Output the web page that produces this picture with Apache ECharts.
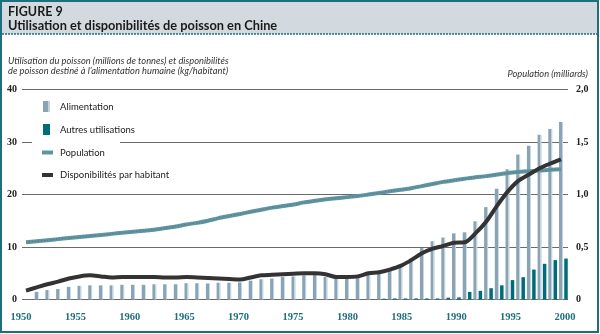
<!DOCTYPE html>
<html><head><meta charset="utf-8">
<script src="https://cdn.jsdelivr.net/npm/echarts@6/dist/echarts.min.js"></script>
<style>html,body{margin:0;padding:0;background:#fff}#c{width:600px;height:334px}</style>
</head><body><div id="c"></div>
<script>
// ---- data ----
const lineYears = [1950,1951,1952,1953,1954,1955,1956,1957,1958,1959,1960,1961,1962,1963,1964,1965,1966,1967,1968,1969,1970,1971,1972,1973,1974,1975,1976,1977,1978,1979,1980,1981,1982,1983,1984,1985,1986,1987,1988,1989,1990,1991,1992,1993,1994,1995,1996,1997,1998,1999,2000];
const foodYears = [1951,1952,1953,1954,1955,1956,1957,1958,1959,1960,1961,1962,1963,1964,1965,1966,1967,1968,1969,1970,1971,1972,1973,1974,1975,1976,1977,1978,1979,1980,1981,1982,1983,1984,1985,1986,1987,1988,1989,1990,1991,1992,1993,1994,1995,1996,1997,1998,1999,2000];
const alimentation = [1.45,1.8,2.0,2.4,2.6,2.7,2.7,2.7,2.8,2.8,2.8,2.9,2.9,2.9,3.1,3.1,3.05,3.2,3.2,3.25,3.6,3.85,4.0,4.3,4.4,4.6,4.9,4.3,4.1,4.2,4.4,4.8,4.9,5.5,6.6,7.8,9.8,11.1,11.8,12.6,12.8,14.9,17.6,21.1,24.8,27.6,29.3,31.4,32.5,33.8];
const otherYears = [1983,1984,1985,1986,1987,1988,1989,1990,1991,1992,1993,1994,1995,1996,1997,1998,1999,2000];
const autresUtilisations = [0.15,0.2,0.2,0.2,0.2,0.2,0.35,0.4,1.45,1.65,2.15,2.7,3.7,4.25,5.7,6.8,7.5,7.8];
const population = [0.545,0.555,0.565,0.575,0.585,0.595,0.605,0.615,0.625,0.635,0.645,0.655,0.665,0.68,0.695,0.715,0.73,0.75,0.775,0.795,0.815,0.835,0.855,0.875,0.89,0.905,0.925,0.94,0.955,0.965,0.975,0.985,1.0,1.015,1.03,1.045,1.06,1.08,1.1,1.12,1.135,1.15,1.165,1.175,1.19,1.205,1.215,1.222,1.228,1.235,1.24];
const parHabitant = [1.7,2.3,2.9,3.4,4.0,4.4,4.6,4.4,4.2,4.3,4.3,4.3,4.3,4.2,4.2,4.3,4.2,4.1,4.0,3.9,3.8,4.2,4.6,4.7,4.8,4.9,5.0,5.0,4.8,4.3,4.3,4.4,5.0,5.2,5.7,6.4,7.5,8.8,9.7,10.2,10.8,10.9,12.6,14.8,17.8,20.5,22.6,23.8,25.0,25.9,26.7];
const leftTicks = {min:0, max:40, interval:10};
const rightTicks = {min:0, max:2, interval:0.5};
const xTicks = {min:1950, max:2000, interval:5};

const pairs = (xs, ys) => xs.map((x, i) => [x, ys[i]]);

const SANS = 'Lato, "Open Sans", sans-serif';
const SERIF = '"Liberation Serif", "DejaVu Serif", serif';
const TEAL = '#1d6f7e';

const chart = echarts.init(document.getElementById('c'), null, {renderer:'canvas'});
chart.setOption({
  animation: false,
  title: [
    {text:'FIGURE 9', left:8, top:5, padding:0, textStyle:{fontFamily:SANS, fontSize:12.5, fontWeight:'bold', color:'#1a1a1a'}},
    {text:'Utilisation et disponibilités de poisson en Chine', left:8, top:19, padding:0, textStyle:{fontFamily:SANS, fontSize:12.8, fontWeight:'bold', color:'#1a1a1a'}},
    {text:'Utilisation du poisson (millions de tonnes) et disponibilités\nde poisson destiné à l\u2019alimentation humaine (kg/habitant)', left:8, top:55.5, padding:0,
      textStyle:{fontFamily:SANS, fontSize:9.3, fontStyle:'italic', fontWeight:'normal', color:'#333', lineHeight:10.5}},
    {text:'Population (milliards)', right:12, top:69, padding:0, textStyle:{fontFamily:SANS, fontSize:9.3, fontStyle:'italic', fontWeight:'normal', color:'#333'}}
  ],
  graphic: [
    {type:'rect', z:-10, shape:{x:1, y:1, width:597, height:331}, style:{fill:'#fff', stroke:TEAL, lineWidth:2}},
    {type:'rect', z:-9, shape:{x:2, y:2, width:595, height:32}, style:{fill:'#d3dadf'}},
    {type:'line', z:-8, shape:{x1:2, y1:34, x2:597, y2:34}, style:{stroke:TEAL, lineWidth:1.5, lineDash:[2,1]}},
    {type:'rect', z:3, shape:{x:32, y:137, width:88, height:8}, style:{fill:'#fff'}}
  ],
  legend: [
    {data:['Alimentation','Autres utilisations'], orient:'vertical', left:43, top:101, padding:0,
      itemWidth:7, itemHeight:11, itemGap:12, icon:'rect', selectedMode:false,
      textStyle:{fontFamily:SANS, fontSize:9.5, color:'#222', lineHeight:11, padding:[0,0,0,5]}},
    {data:['Population','Disponibilités par habitant'], orient:'vertical', left:42, top:147, padding:0,
      itemWidth:11, itemHeight:4, itemGap:11.5, icon:'rect', selectedMode:false,
      textStyle:{fontFamily:SANS, fontSize:9.5, color:'#222', lineHeight:11, padding:[0,0,0,2]}}
  ],
  grid: [
    {left:22, right:32, top:89.5, bottom:34.5},
    {left:21, right:35, top:89.5, bottom:34.5}
  ],
  xAxis: [
    {type:'value', gridIndex:0, min:1949.626, max:2000.654, show:false},
    {type:'value', gridIndex:1, min:xTicks.min, max:xTicks.max, interval:xTicks.interval,
      axisLine:{show:false}, axisTick:{show:false}, splitLine:{show:false},
      axisLabel:{margin:12, color:TEAL, fontFamily:SERIF, fontWeight:'bold', fontSize:10.5, formatter: v => String(v)}},
    {type:'value', gridIndex:0, min:1949.159, max:2000.187, show:false}
  ],
  yAxis: [
    {type:'value', gridIndex:0, position:'left', min:leftTicks.min, max:leftTicks.max, interval:leftTicks.interval,
      axisLine:{show:false}, axisTick:{show:false},
      splitLine:{lineStyle:{color:'#6a6a6a', width:1}},
      axisLabel:{margin:5, color:'#222', fontFamily:SERIF, fontWeight:'bold', fontSize:10}},
    {type:'value', gridIndex:0, position:'right', min:rightTicks.min, max:rightTicks.max, interval:rightTicks.interval,
      axisLine:{show:false}, axisTick:{show:false}, splitLine:{show:false},
      axisLabel:{margin:8, color:'#222', fontFamily:SERIF, fontWeight:'bold', fontSize:10,
        formatter: v => v === 0 ? '0' : v.toFixed(1).replace('.', ',')}},
    {type:'value', gridIndex:1, min:0, max:1, show:false}
  ],
  series: [
    {name:'Alimentation', type:'bar', xAxisIndex:0, yAxisIndex:0, barWidth:4, z:2,
      itemStyle:{color:new echarts.graphic.LinearGradient(0,0,1,0,[
        {offset:0,color:'#89a5b5'},{offset:0.7,color:'#89a5b5'},{offset:0.71,color:'#c3d2db'},{offset:1,color:'#c3d2db'}])},
      data:pairs(foodYears, alimentation)},
    {name:'Autres utilisations', type:'bar', xAxisIndex:2, yAxisIndex:0, barWidth:3.5, z:2,
      itemStyle:{color:'#006b79'},
      data:pairs(otherYears, autresUtilisations)},
    {name:'Population', type:'line', xAxisIndex:0, yAxisIndex:1, symbol:'none', smooth:0.2, z:3,
      lineStyle:{width:4, color:'#5d96a3'}, itemStyle:{color:'#5d96a3'},
      data:pairs(lineYears, population)},
    {name:'PopulationTexture', type:'line', xAxisIndex:0, yAxisIndex:1, symbol:'none', smooth:0.2, z:3, silent:true,
      lineStyle:{width:1, color:'#6d6a6f', type:[1,2]},
      data:pairs(lineYears, population)},
    {name:'Disponibilités par habitant', type:'line', xAxisIndex:0, yAxisIndex:0, symbol:'none', smooth:0.3, z:4,
      lineStyle:{width:4, color:'#333333'}, itemStyle:{color:'#333333'},
      data:pairs(lineYears, parHabitant)}
  ]
});
</script></body></html>
